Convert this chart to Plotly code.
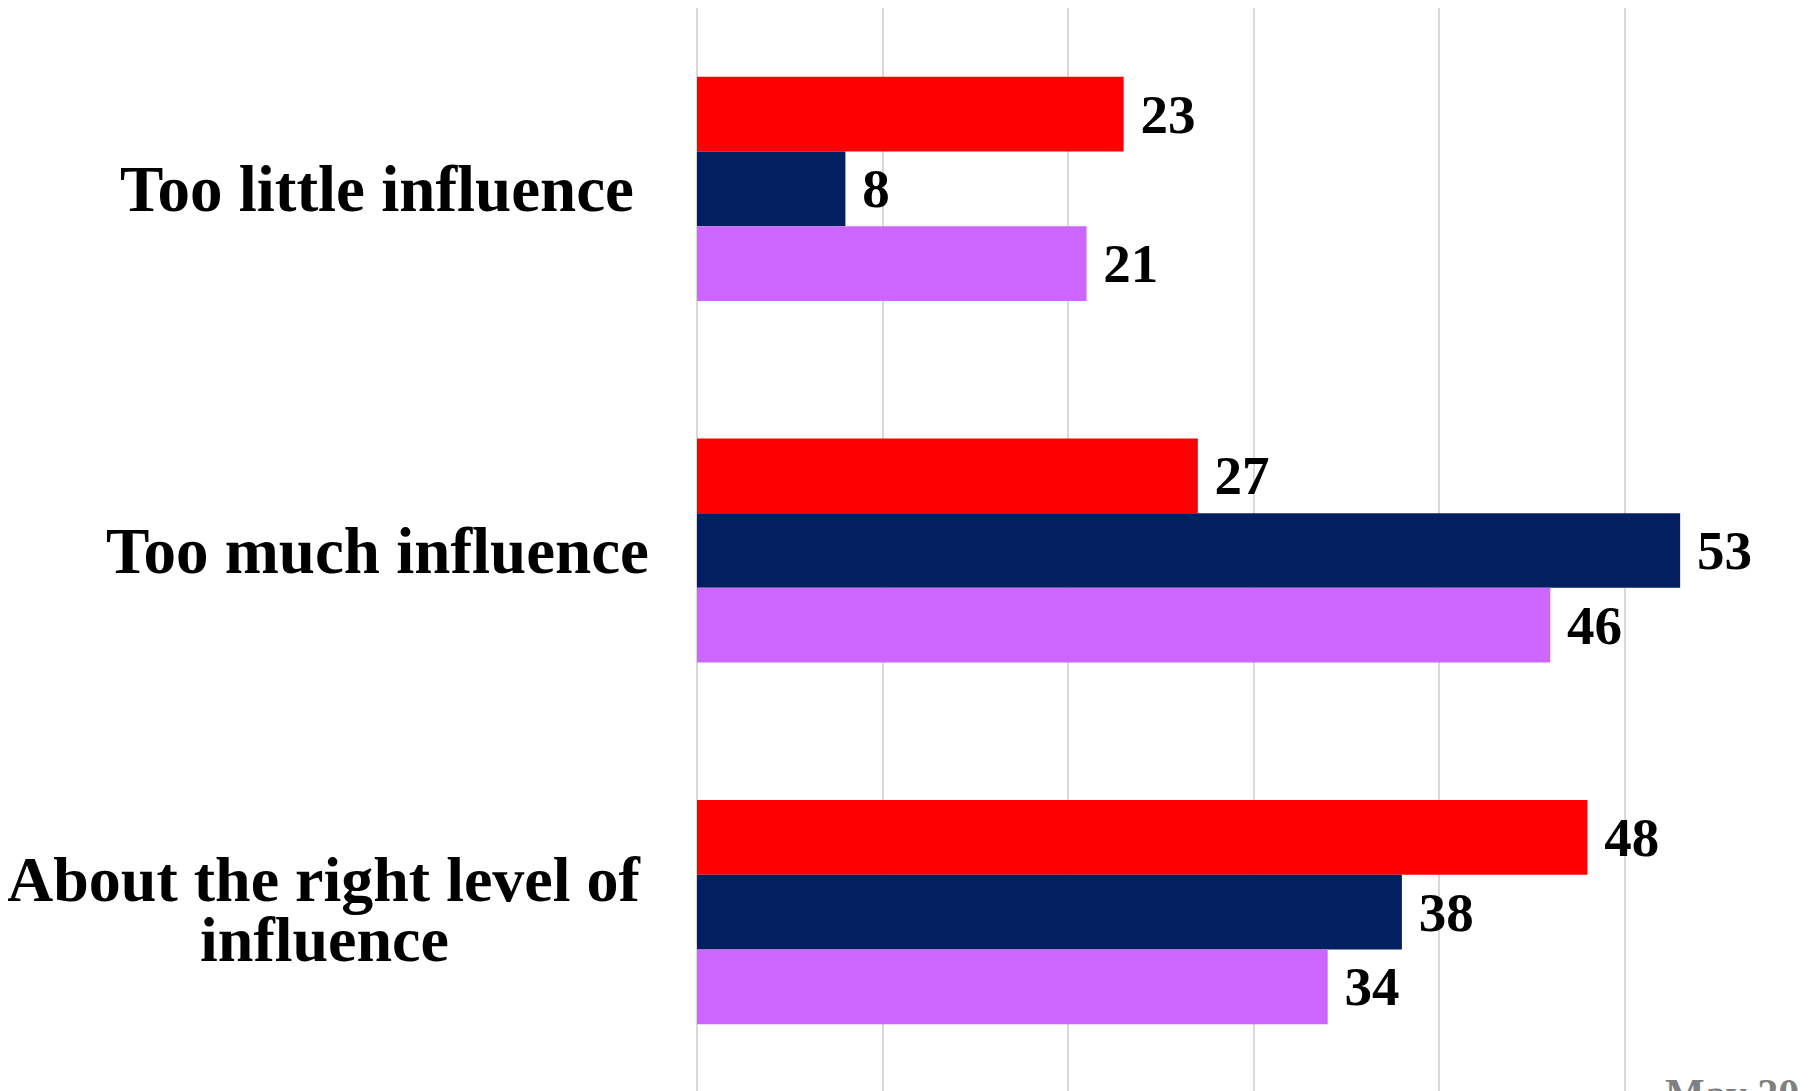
import plotly.graph_objects as go

categories = ["Too little influence", "Too much influence", "About the right level of influence"]
series_names = ["Republicans", "Democrats", "Independents"]
rep_values = [23, 27, 48]
dem_values = [8, 53, 38]
ind_values = [21, 46, 34]
x_ticks = [0, 10, 20, 30, 40, 50, 60]
source_note = "May 2019"

colors = ["#FF0000", "#022060", "#CC66FF"]
FONT = "Georgia, 'Liberation Serif', 'Times New Roman', serif"

fig = go.Figure()
for name, vals, col in zip(series_names, [rep_values, dem_values, ind_values], colors):
    fig.add_trace(go.Bar(
        y=categories, x=vals, name=name, orientation="h",
        marker=dict(color=col, line=dict(width=0)),
        text=vals, texttemplate=" %{x}", textposition="outside",
        textfont=dict(family=FONT, size=55, color="#000000", weight="bold"),
        cliponaxis=False,
    ))

annotations = []
for cat in categories[:2]:
    annotations.append(dict(x=-0.2875, xref="paper", y=cat, yref="y", text=f"<b>{cat}</b>",
                            showarrow=False, xanchor="center", yanchor="middle",
                            font=dict(family=FONT, size=65, color="#000000")))
third = categories[2]
for txt, ys in [("About the right level of", 33), ("influence", -27)]:
    annotations.append(dict(x=-0.335, xref="paper", y=third, yref="y", text=f"<b>{txt}</b>",
                            showarrow=False, xanchor="center", yanchor="middle", yshift=ys,
                            font=dict(family=FONT, size=64, color="#000000")))
annotations.append(dict(x=0.868, xref="paper", y=0.022, yref="paper", text=f"<b>{source_note}</b>",
                        showarrow=False, xanchor="left", yanchor="top",
                        font=dict(family=FONT, size=42, color="#808080")))

fig.update_layout(
    width=1810, height=1091,
    margin=dict(l=689, r=8, t=0, b=6),
    paper_bgcolor="white", plot_bgcolor="white",
    barmode="group", bargap=0.38, bargroupgap=0,
    showlegend=False,
    annotations=annotations,
    xaxis=dict(range=[0, 60], tickvals=x_ticks, showticklabels=False,
               showgrid=True, gridcolor="#D9D9D9", gridwidth=1.5,
               zeroline=True, zerolinecolor="#D9D9D9", zerolinewidth=1.5,
               showline=False, fixedrange=True),
    yaxis=dict(autorange="reversed", showticklabels=False, showgrid=False,
               zeroline=False, showline=False, ticks=""),
)

fig.write_html("out.html")
